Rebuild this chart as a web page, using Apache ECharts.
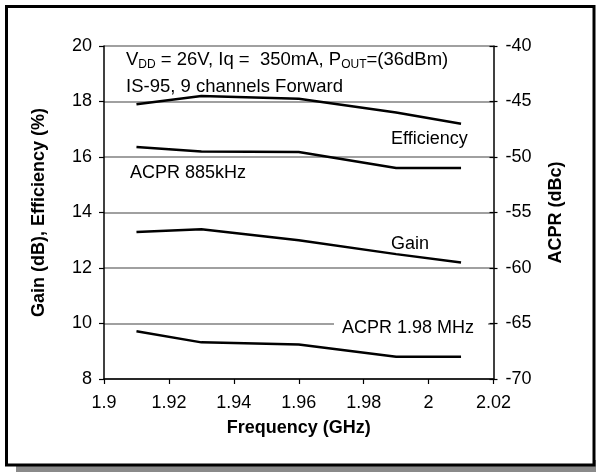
<!DOCTYPE html>
<html>
<head>
<meta charset="utf-8">
<script src="https://cdn.jsdelivr.net/npm/echarts@6/dist/echarts.min.js"></script>
<style>
html,body{margin:0;padding:0;background:#fff;}
#chart{width:596px;height:472px;}
</style>
</head>
<body>
<div id="chart"></div>
<script>
// Frequency (GHz)
var freq = [1.91, 1.93, 1.96, 1.99, 2.01];
// Left axis: Gain (dB), Efficiency (%)
var efficiency = [17.9, 18.2, 18.1, 17.6, 17.2];
var gain = [13.3, 13.4, 13.0, 12.5, 12.2];
// Right axis: ACPR (dBc)
var acpr885 = [-49.1, -49.5, -49.55, -51.0, -51.0];
var acpr198 = [-65.7, -66.7, -66.9, -68.0, -68.0];

var xTicks = [1.9, 1.92, 1.94, 1.96, 1.98, 2.0, 2.02];
var leftTicks = [8, 10, 12, 14, 16, 18, 20];
var rightTicks = [-70, -65, -60, -55, -50, -45, -40];

function pairs(xs, ys) { return xs.map(function (x, i) { return [x, ys[i]]; }); }

var FONT = 'Liberation Sans, Arial, sans-serif';
var FS = 18;
var lineStyle = { color: '#000', width: 2.5 };

var chart = echarts.init(document.getElementById('chart'), null, { renderer: 'canvas' });

var option = {
  animation: false,
  backgroundColor: '#fff',
  textStyle: { fontFamily: FONT },
  grid: { left: 104, right: 102.5, top: 46, bottom: 93, containLabel: false },
  xAxis: {
    type: 'value',
    min: xTicks[0], max: xTicks[xTicks.length - 1], interval: 0.02,
    name: 'Frequency (GHz)', nameLocation: 'middle', nameGap: 40,
    nameTextStyle: { fontFamily: FONT, fontSize: 18, fontWeight: 'bold', color: '#000' },
    axisLine: { show: true, onZero: false, lineStyle: { color: '#000', width: 1.5 } },
    axisTick: { show: true, inside: false, length: 5, lineStyle: { color: '#000', width: 1.2 } },
    axisLabel: { fontFamily: FONT, fontSize: FS, color: '#000', margin: 15,
      formatter: function (v) { return String(+v.toFixed(2)); } },
    splitLine: { show: false }
  },
  yAxis: [
    {
      type: 'value', position: 'left',
      min: leftTicks[0], max: leftTicks[leftTicks.length - 1], interval: 2,
      name: 'Gain (dB), Efficiency (%)', nameLocation: 'middle', nameGap: 56,
      nameTextStyle: { fontFamily: FONT, fontSize: 18, fontWeight: 'bold', color: '#000' },
      axisLine: { show: true, lineStyle: { color: '#000', width: 1.5 } },
      axisTick: { show: true, inside: false, length: 5, lineStyle: { color: '#000', width: 1.2 } },
      axisLabel: { fontFamily: FONT, fontSize: FS, color: '#000', margin: 12 },
      splitLine: { show: true, lineStyle: { color: '#808080', width: 1.5 } }
    },
    {
      type: 'value', position: 'right',
      min: rightTicks[0], max: rightTicks[rightTicks.length - 1], interval: 5,
      name: 'ACPR (dBc)', nameLocation: 'middle', nameGap: 54,
      nameTextStyle: { fontFamily: FONT, fontSize: 18, fontWeight: 'bold', color: '#000' },
      axisLine: { show: true, lineStyle: { color: '#000', width: 1.5 } },
      axisTick: { show: true, inside: false, length: 4, lineStyle: { color: '#000', width: 1.2 } },
      axisLabel: { fontFamily: FONT, fontSize: FS, color: '#000', margin: 12 },
      splitLine: { show: false }
    },
    {
      // inner half of the crossing ticks on the right axis
      type: 'value', position: 'right',
      min: rightTicks[0], max: rightTicks[rightTicks.length - 1], interval: 5,
      axisLine: { show: false },
      axisTick: { show: true, inside: true, length: 4, lineStyle: { color: '#000', width: 1.2 } },
      axisLabel: { show: false },
      splitLine: { show: false }
    }
  ],
  series: [
    { name: 'Efficiency', type: 'line', yAxisIndex: 0, data: pairs(freq, efficiency), showSymbol: false, symbol: 'none', lineStyle: lineStyle, z: 5 },
    { name: 'Gain', type: 'line', yAxisIndex: 0, data: pairs(freq, gain), showSymbol: false, symbol: 'none', lineStyle: lineStyle, z: 5 },
    { name: 'ACPR 885kHz', type: 'line', yAxisIndex: 1, data: pairs(freq, acpr885), showSymbol: false, symbol: 'none', lineStyle: lineStyle, z: 5 },
    { name: 'ACPR 1.98 MHz', type: 'line', yAxisIndex: 1, data: pairs(freq, acpr198), showSymbol: false, symbol: 'none', lineStyle: lineStyle, z: 5 }
  ],
  graphic: [
    // drop shadow (bottom strip)
    { type: 'rect', z: -10, silent: true, shape: { x: 16, y: 460, width: 580, height: 12 }, style: { fill: '#8a8a8a' } },
    // frame
    { type: 'rect', z: -9, silent: true, shape: { x: 6.5, y: 6.5, width: 587.5, height: 458.5 }, style: { fill: '#fff', stroke: '#000', lineWidth: 3 } },
    // header text
    { type: 'text', z: 20, left: 126, top: 50, style: {
        text: 'V{s|DD} = 26V, Iq =  350mA, P{s|OUT}=(36dBm)',
        font: '18.5px ' + FONT, fill: '#000',
        rich: { s: { fontSize: 12, fontFamily: FONT, fill: '#000', padding: [10, 0, 0, 0] } }
      } },
    { type: 'text', z: 20, left: 126, top: 77, style: { text: 'IS-95, 9 channels Forward', font: '18.5px ' + FONT, fill: '#000' } },
    { type: 'text', z: 20, left: 391, top: 130, style: { text: 'Efficiency', font: FS + 'px ' + FONT, fill: '#000' } },
    { type: 'text', z: 20, left: 130, top: 164, style: { text: 'ACPR 885kHz', font: FS + 'px ' + FONT, fill: '#000' } },
    { type: 'text', z: 20, left: 391, top: 235, style: { text: 'Gain', font: FS + 'px ' + FONT, fill: '#000' } },
    { type: 'text', z: 20, left: 334, top: 317, style: { text: 'ACPR 1.98 MHz', font: FS + 'px ' + FONT, fill: '#000', backgroundColor: '#fff', padding: [2, 14, 2, 8] } }
  ]
};
chart.setOption(option);
</script>
</body>
</html>
